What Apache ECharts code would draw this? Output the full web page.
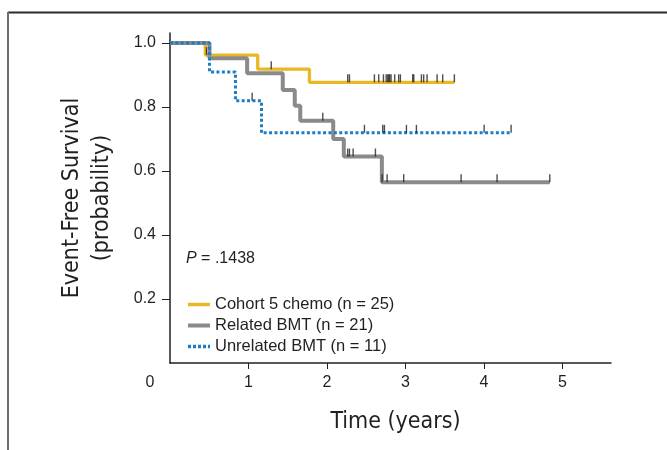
<!DOCTYPE html>
<html>
<head>
<meta charset="utf-8">
<script src="https://cdn.jsdelivr.net/npm/echarts@6/dist/echarts.min.js"></script>
<style>
html, body { margin: 0; padding: 0; background: #fff; }
#chart { width: 667px; height: 450px; }
</style>
</head>
<body>
<div id="chart"></div>
<script type="text/javascript">
// Kaplan-Meier steps: [time (years), survival]
var chemoSteps     = [[0, 1], [0.45, 0.962], [1.118, 0.918], [1.777, 0.877], [3.624, 0.877]];
var relatedSteps   = [[0, 1], [0.503, 0.952], [0.983, 0.905], [1.437, 0.853], [1.59, 0.804],
                      [1.66, 0.757], [2.08, 0.70], [2.215, 0.645], [2.70, 0.565], [4.84, 0.565]];
var unrelatedSteps = [[0, 1], [0.503, 0.909], [0.834, 0.819], [1.166, 0.719], [4.347, 0.719]];

// censor marks
var chemoCensor = [[0.465, 0.962], [1.29, 0.918],
    [2.265, 0.877], [2.287, 0.877], [2.605, 0.877], [2.66, 0.877], [2.72, 0.877], [2.755, 0.877],
    [2.775, 0.877], [2.787, 0.877], [2.80, 0.877], [2.817, 0.877], [2.863, 0.877], [2.914, 0.877],
    [2.936, 0.877], [3.093, 0.877], [3.106, 0.877], [3.204, 0.877], [3.233, 0.877], [3.276, 0.877],
    [3.404, 0.877], [3.475, 0.877], [3.624, 0.877]];
var relatedCensor = [[1.947, 0.757], [2.265, 0.645], [2.287, 0.645], [2.334, 0.645], [2.618, 0.645],
    [2.703, 0.565], [2.767, 0.565], [2.978, 0.565], [3.71, 0.565], [4.168, 0.565], [4.84, 0.565]];
var unrelatedCensor = [[1.047, 0.819], [2.478, 0.719], [2.711, 0.719], [2.732, 0.719], [3.013, 0.719],
    [3.14, 0.719], [4.003, 0.719], [4.347, 0.719]];

var seriesNames = ['Cohort 5 chemo (n = 25)', 'Related BMT (n = 21)', 'Unrelated BMT (n = 11)'];
var xTicks = [0, 1, 2, 3, 4, 5];
var yTicks = [0.2, 0.4, 0.6, 0.8, 1.0];
var pText = '.1438';

var txt = '#231f20';
var narrow = "'Liberation Sans Narrow', 'DejaVu Sans Condensed', sans-serif";
var sans = "'Liberation Sans', Arial, sans-serif";
var colors = ['#E9B824', '#8A8A8A', '#1B7DC4'];

function censorSeries(data) {
    return {
        type: 'scatter',
        data: data,
        symbol: 'rect',
        symbolSize: [1.4, 8],
        symbolOffset: [0, -4],
        itemStyle: { color: '#222' },
        silent: true,
        z: 5
    };
}

var myChart = echarts.init(document.getElementById('chart'));
var option = {
    animation: false,
    backgroundColor: '#fff',
    grid: { left: 170, right: 56, top: 33, bottom: 87 },
    legend: {
        data: [
            { name: seriesNames[0], lineStyle: { width: 3.5 } },
            { name: seriesNames[1], lineStyle: { width: 4 } },
            { name: seriesNames[2], lineStyle: { width: 3.5, type: [3, 2] } }
        ],
        orient: 'vertical',
        left: 186,
        top: 296,
        padding: 0,
        itemWidth: 22,
        itemHeight: 14,
        itemGap: 4,
        itemStyle: { opacity: 0 },
        textStyle: { fontFamily: sans, fontSize: 16.5, lineHeight: 14, color: txt }
    },
    xAxis: {
        type: 'value',
        min: 0,
        max: 5.62,
        interval: 1,
        splitLine: { show: false },
        axisLine: { lineStyle: { color: '#231f20', width: 1.5 } },
        axisTick: { customValues: [1, 2, 3, 4, 5], length: 6, lineStyle: { color: '#231f20' } },
        axisLabel: {
            customValues: xTicks,
            margin: 12,
            fontFamily: sans,
            fontSize: 16,
            color: txt,
            formatter: function (v) { return v === 0 ? '{z|0}' : String(v); },
            rich: { z: { fontFamily: sans, fontSize: 16, color: txt, padding: [0, 40, 0, 0] } }
        },
        name: 'Time (years)',
        nameLocation: 'middle',
        nameGap: 48,
        nameTextStyle: { fontFamily: narrow, fontSize: 23, color: txt, padding: [0, 0, 0, 10] }
    },
    yAxis: {
        type: 'value',
        min: 0,
        max: 1.031,
        splitLine: { show: false },
        axisLine: { lineStyle: { color: '#231f20', width: 1.5 } },
        axisTick: { customValues: yTicks, length: 8, lineStyle: { color: '#231f20' } },
        axisLabel: {
            customValues: yTicks,
            margin: 14,
            fontFamily: sans,
            fontSize: 16,
            color: txt,
            formatter: function (v) { return v.toFixed(1); }
        },
        name: 'Event-Free Survival\n(probability)',
        nameLocation: 'middle',
        nameRotate: 90,
        nameGap: 53,
        nameTextStyle: { fontFamily: narrow, fontSize: 23, lineHeight: 30, color: txt }
    },
    graphic: [
        { type: 'line', shape: { x1: 8, y1: 12.5, x2: 667, y2: 12.5 }, style: { stroke: '#2b2b2b', lineWidth: 2 } },
        { type: 'line', shape: { x1: 8, y1: 12, x2: 8, y2: 450 }, style: { stroke: '#6e6e6e', lineWidth: 2 } },
        {
            type: 'text', left: 186, top: 251,
            style: {
                text: '{i|P} = ' + pText,
                rich: { i: { fontStyle: 'italic', fontFamily: sans, fontSize: 16, fill: txt } },
                font: '16px ' + sans,
                fill: txt
            }
        }
    ],
    series: [
        {
            name: seriesNames[0], type: 'line', step: 'end', data: chemoSteps,
            symbol: 'none', color: colors[0],
            lineStyle: { color: colors[0], width: 3.3 }, z: 2
        },
        {
            name: seriesNames[1], type: 'line', step: 'end', data: relatedSteps,
            symbol: 'none', color: colors[1],
            lineStyle: { color: colors[1], width: 4 }, z: 3
        },
        {
            name: seriesNames[2], type: 'line', step: 'end', data: unrelatedSteps,
            symbol: 'none', color: colors[2],
            lineStyle: { color: colors[2], width: 3, type: [3, 2.4] }, z: 4
        },
        censorSeries(chemoCensor),
        censorSeries(relatedCensor),
        censorSeries(unrelatedCensor)
    ]
};
myChart.setOption(option);
</script>
</body>
</html>
